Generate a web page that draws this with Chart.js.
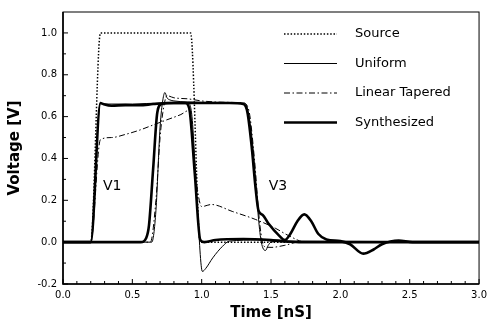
<!DOCTYPE html>
<html>
<head>
<meta charset="utf-8">
<script src="https://cdn.jsdelivr.net/npm/chart.js@4.4.1/dist/chart.umd.min.js"></script>
<style>
  html, body { margin: 0; padding: 0; background: #fff; }
  #wrap { width: 492px; height: 326px; }
</style>
</head>
<body>
<div id="wrap"><canvas id="pulseChart"></canvas></div>
<script>
// time in nS, voltage in V
const sourceTime = [0, 0.2, 0.27, 0.92, 0.99, 3.0];
const sourceVolt = [0, 0, 1.0, 1.0, 0, 0];

// V1 traces (input side)
const uniformV1Time = [0, 0.2, 0.27, 0.3, 0.5, 0.7, 0.9, 0.93, 0.97, 1.005, 1.03, 1.08, 1.15, 1.2, 1.4, 1.6, 3.0];
const uniformV1Volt = [0, 0, 0.665, 0.66, 0.66, 0.665, 0.665, 0.6, 0.15, -0.14, -0.125, -0.075, -0.02, 0.005, 0.01, 0, 0];

const taperedV1Time = [0, 0.2, 0.27, 0.35, 0.45, 0.55, 0.65, 0.75, 0.85, 0.91, 0.94, 0.97, 1.0, 1.07, 1.22, 1.39, 1.53, 1.63, 1.75, 3.0];
const taperedV1Volt = [0, 0, 0.49, 0.5, 0.515, 0.535, 0.56, 0.585, 0.61, 0.63, 0.45, 0.25, 0.17, 0.18, 0.147, 0.108, 0.067, 0.03, 0, 0];

const synthV1Time = [0, 0.2, 0.27, 0.29, 0.35, 0.45, 0.55, 0.65, 0.75, 0.88, 0.91, 0.95, 0.99, 1.02, 1.1, 1.3, 1.5, 1.7, 3.0];
const synthV1Volt = [0, 0, 0.665, 0.66, 0.652, 0.655, 0.654, 0.66, 0.665, 0.665, 0.64, 0.33, 0.01, 0, 0.01, 0.015, 0.01, 0, 0];

// V3 traces (output side)
const uniformV3Time = [0, 0.64, 0.67, 0.7, 0.72, 0.735, 0.75, 0.77, 0.8, 0.9, 1.1, 1.3, 1.33, 1.37, 1.41, 1.43, 1.46, 1.48, 1.5, 1.6, 3.0];
const uniformV3Volt = [0, 0, 0.15, 0.55, 0.68, 0.715, 0.69, 0.68, 0.675, 0.67, 0.668, 0.665, 0.64, 0.45, 0.11, 0, -0.04, -0.015, 0, 0.005, 0];

const taperedV3Time = [0, 0.63, 0.67, 0.7, 0.72, 0.75, 0.8, 0.9, 1.0, 1.1, 1.2, 1.3, 1.34, 1.38, 1.42, 1.45, 1.5, 1.6, 1.7, 3.0];
const taperedV3Volt = [0, 0, 0.2, 0.5, 0.62, 0.7, 0.69, 0.685, 0.675, 0.67, 0.668, 0.665, 0.63, 0.4, 0.08, -0.02, -0.025, -0.015, 0, 0];

const synthV3Time = [0, 0.56, 0.6, 0.62, 0.65, 0.68, 0.71, 0.8, 1.0, 1.2, 1.3, 1.33, 1.36, 1.39, 1.41, 1.44, 1.48, 1.56, 1.6, 1.64, 1.69, 1.74, 1.79, 1.84, 1.9, 2.0, 2.07, 2.165, 2.24, 2.3, 2.42, 2.52, 3.0];
const synthV3Volt = [0, 0, 0.02, 0.08, 0.35, 0.62, 0.66, 0.665, 0.665, 0.665, 0.66, 0.62, 0.46, 0.25, 0.15, 0.13, 0.09, 0.03, 0.01, 0.04, 0.1, 0.133, 0.1, 0.04, 0.013, 0.005, -0.01, -0.055, -0.035, -0.01, 0.008, 0, 0];

const xMajorTicks = [0, 0.5, 1.0, 1.5, 2.0, 2.5, 3.0];
const yMajorTicks = [-0.2, 0, 0.2, 0.4, 0.6, 0.8, 1.0];

const legendNames = ['Source', 'Uniform', 'Linear Tapered', 'Synthesized'];

const FONT = "'DejaVu Sans', sans-serif";

function toPoints(t, v) {
  return t.map((x, i) => ({ x: x, y: v[i] }));
}

function isMajor(value, list) {
  return list.some(m => Math.abs(m - value) < 1e-6);
}

const dotted = [1.5, 1.8];
const dashDot = [6, 2.5, 1.5, 2.5];

const datasets = [
  { label: legendNames[0], data: toPoints(sourceTime, sourceVolt), borderWidth: 1.5, borderDash: dotted, tension: 0 },
  { label: legendNames[1], data: toPoints(uniformV1Time, uniformV1Volt), borderWidth: 1 },
  { label: legendNames[2], data: toPoints(taperedV1Time, taperedV1Volt), borderWidth: 1, borderDash: dashDot },
  { label: legendNames[3], data: toPoints(synthV1Time, synthV1Volt), borderWidth: 2.6 },
  { label: legendNames[1] + ' V3', data: toPoints(uniformV3Time, uniformV3Volt), borderWidth: 1, hideInLegend: true },
  { label: legendNames[2] + ' V3', data: toPoints(taperedV3Time, taperedV3Volt), borderWidth: 1, borderDash: dashDot, hideInLegend: true },
  { label: legendNames[3] + ' V3', data: toPoints(synthV3Time, synthV3Volt), borderWidth: 2.6, hideInLegend: true }
].map(ds => Object.assign({
  borderColor: '#000',
  backgroundColor: '#000',
  pointRadius: 0,
  fill: false,
  cubicInterpolationMode: 'monotone',
  borderJoinStyle: 'round'
}, ds));

// box around the plot and the inward tick marks
const frameAndTicks = {
  id: 'frameAndTicks',
  afterDraw(chart) {
    const { ctx, chartArea: a, scales: { x, y } } = chart;
    ctx.save();
    ctx.strokeStyle = '#000';
    ctx.lineWidth = 1;
    ctx.strokeRect(a.left, a.top, a.right - a.left, a.bottom - a.top);
    ctx.lineWidth = 1.6;
    ctx.beginPath();
    ctx.moveTo(a.left, a.top);
    ctx.lineTo(a.left, a.bottom);
    ctx.lineTo(a.right, a.bottom);
    ctx.stroke();
    ctx.lineWidth = 1;
    x.ticks.forEach(t => {
      const px = x.getPixelForValue(t.value);
      const len = isMajor(t.value, xMajorTicks) ? 5 : 3;
      ctx.beginPath();
      ctx.moveTo(px, a.bottom);
      ctx.lineTo(px, a.bottom - len);
      ctx.stroke();
    });
    y.ticks.forEach(t => {
      if (t.value > 1.05) return;
      const py = y.getPixelForValue(t.value);
      const len = isMajor(t.value, yMajorTicks) ? 5 : 3;
      ctx.beginPath();
      ctx.moveTo(a.left, py);
      ctx.lineTo(a.left + len, py);
      ctx.stroke();
    });
    ctx.restore();
  }
};

// legend inside the plot + V1 / V3 labels
const legendInside = {
  id: 'legendInside',
  afterDraw(chart) {
    const { ctx, chartArea: a, scales: { x, y } } = chart;
    ctx.save();
    ctx.fillStyle = '#000';
    ctx.strokeStyle = '#000';
    ctx.font = '13px ' + FONT;
    ctx.textBaseline = 'middle';
    let row = 0;
    chart.data.datasets.forEach(ds => {
      if (ds.hideInLegend) return;
      const ly = a.top + 22 + row * 29.5;
      ctx.lineWidth = ds.borderWidth;
      ctx.setLineDash(ds.borderDash || []);
      ctx.beginPath();
      ctx.moveTo(a.left + 221, ly);
      ctx.lineTo(a.left + 274, ly);
      ctx.stroke();
      ctx.setLineDash([]);
      ctx.fillText(ds.label, a.left + 292, ly);
      row++;
    });

    ctx.font = '14px ' + FONT;
    ctx.textAlign = 'center';
    ctx.fillText('V1', x.getPixelForValue(0.355), y.getPixelForValue(0.265));
    ctx.fillText('V3', x.getPixelForValue(1.55), y.getPixelForValue(0.265));
    ctx.restore();
  }
};

const ctx = document.getElementById('pulseChart').getContext('2d');
const pulseChart = new Chart(ctx, {
  type: 'line',
  data: { datasets: datasets },
  options: {
    responsive: true,
    maintainAspectRatio: false,
    animation: false,
    devicePixelRatio: 1,
    layout: { padding: { top: 8, right: 10, left: 0, bottom: 0 } },
    plugins: {
      legend: { display: false },
      tooltip: { enabled: false }
    },
    scales: {
      x: {
        type: 'linear',
        min: 0,
        max: 3,
        grid: { display: false, drawTicks: false },
        border: { display: false },
        ticks: {
          stepSize: 0.1,
          autoSkip: false,
          maxRotation: 0,
          padding: 5,
          color: '#000',
          font: { family: FONT, size: 10 },
          callback: v => isMajor(v, xMajorTicks) ? v.toFixed(1) : ''
        },
        title: {
          display: true,
          text: 'Time [nS]',
          color: '#000',
          font: { family: FONT, size: 15, weight: 'bold' },
          padding: { top: 0, bottom: 4 }
        },
        afterFit: s => { s.height = 42; }
      },
      y: {
        min: -0.2,
        max: 1.1,
        grid: { display: false, drawTicks: false },
        border: { display: false },
        ticks: {
          stepSize: 0.1,
          autoSkip: false,
          padding: 6,
          color: '#000',
          font: { family: FONT, size: 10 },
          callback: v => isMajor(v, yMajorTicks) ? v.toFixed(1) : ''
        },
        title: {
          display: true,
          text: 'Voltage [V]',
          color: '#000',
          font: { family: FONT, size: 15, weight: 'bold' },
          padding: { top: 6, bottom: 0 }
        },
        afterFit: s => { s.width = 63; }
      }
    }
  },
  plugins: [frameAndTicks, legendInside]
});
</script>
</body>
</html>
